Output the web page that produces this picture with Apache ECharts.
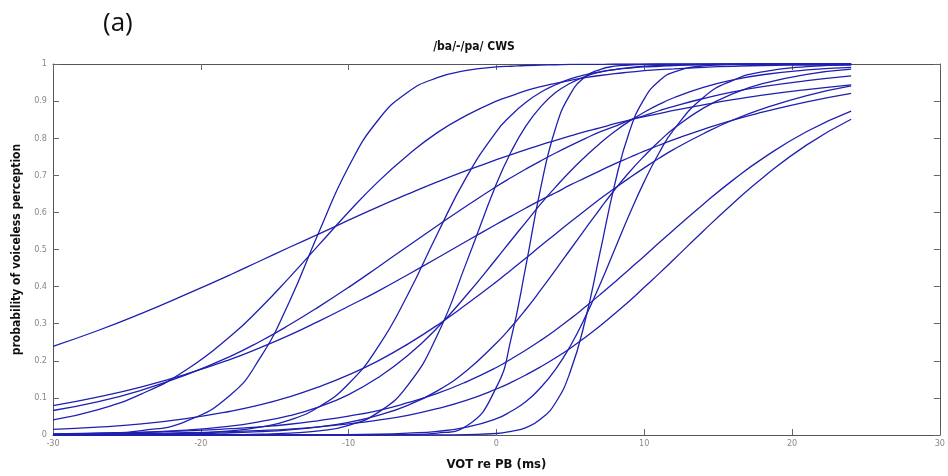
<!DOCTYPE html>
<html><head><meta charset="utf-8">
<script src="https://cdn.jsdelivr.net/npm/echarts@6/dist/echarts.min.js"></script>
<style>html,body{margin:0;padding:0;background:#fff}#c{width:948px;height:476px}</style>
</head><body><div id="c"></div>
<script>
// VOT values (ms) at which each curve is sampled
const vot = [-30,-27,-24,-21,-18,-16,-14,-12,-10,-8,-6,-4,-2,0,1,2,3,4,5,6,7,8,9,10,11,12,14,16,18,21,24];
// probability of voiceless perception, one array per listener curve
const curveA = [0.239,0.281,0.328,0.379,0.432,0.469,0.506,0.542,0.579,0.615,0.649,0.682,0.713,0.742,0.756,0.769,0.782,0.794,0.806,0.818,0.828,0.839,0.849,0.858,0.866,0.875,0.890,0.904,0.916,0.931,0.944];
const curveS1 = [0.001,0.004,0.012,0.037,0.108,0.207,0.360,0.548,0.723,0.849,0.924,0.963,0.983,0.992,0.994,0.996,0.997,0.998,0.999,0.999,0.999,1,1,1,1,1,1,1,1,1,1];
const curveD = [0.041,0.068,0.111,0.175,0.266,0.341,0.425,0.513,0.601,0.683,0.754,0.815,0.862,0.900,0.914,0.928,0.939,0.948,0.956,0.963,0.969,0.974,0.978,0.982,0.985,0.987,0.991,0.994,0.996,0.997,0.998];
const curveB = [0.079,0.102,0.130,0.164,0.204,0.235,0.269,0.307,0.347,0.388,0.432,0.477,0.523,0.568,0.590,0.612,0.633,0.653,0.674,0.693,0.712,0.731,0.748,0.765,0.781,0.796,0.824,0.849,0.870,0.898,0.921];
const curveC = [0.066,0.089,0.121,0.162,0.212,0.252,0.297,0.346,0.398,0.453,0.509,0.564,0.618,0.670,0.694,0.717,0.739,0.760,0.780,0.799,0.817,0.832,0.848,0.861,0.874,0.886,0.907,0.925,0.939,0.955,0.968];
const curveE = [0.015,0.021,0.030,0.044,0.064,0.081,0.103,0.130,0.162,0.200,0.245,0.296,0.353,0.413,0.445,0.477,0.510,0.542,0.574,0.605,0.636,0.665,0.693,0.720,0.746,0.770,0.812,0.849,0.879,0.915,0.941];
const curveM1 = [0,0.001,0.002,0.004,0.011,0.021,0.040,0.076,0.138,0.238,0.378,0.542,0.697,0.818,0.862,0.897,0.924,0.944,0.960,0.971,0.979,0.985,0.989,0.992,0.994,0.996,0.998,0.999,1,1,1];
const curveM2 = [0,0,0,0,0.001,0.002,0.005,0.011,0.026,0.061,0.134,0.269,0.468,0.677,0.764,0.833,0.885,0.923,0.948,0.966,0.978,0.985,0.990,0.994,0.996,0.997,0.999,1,1,1,1];
const curveS3 = [0,0,0,0,0,0,0,0,0,0,0.001,0.005,0.025,0.129,0.261,0.457,0.667,0.827,0.919,0.965,0.985,0.994,0.997,0.999,1,1,1,1,1,1,1];
const curveS4 = [0,0,0,0,0,0,0,0,0,0,0,0,0.001,0.004,0.010,0.020,0.043,0.087,0.171,0.308,0.490,0.675,0.818,0.906,0.954,0.978,0.995,0.999,1,1,1];
const curveM3 = [0,0,0,0,0,0,0,0.001,0.001,0.002,0.005,0.010,0.021,0.044,0.064,0.090,0.128,0.177,0.240,0.317,0.405,0.5,0.595,0.683,0.760,0.823,0.910,0.956,0.979,0.993,0.998];
const curveG = [0.001,0.002,0.004,0.006,0.009,0.012,0.016,0.022,0.030,0.040,0.053,0.071,0.094,0.124,0.142,0.162,0.184,0.208,0.234,0.263,0.294,0.327,0.361,0.398,0.435,0.473,0.550,0.624,0.693,0.782,0.851];
const curveH = [0.003,0.005,0.007,0.011,0.017,0.022,0.029,0.039,0.051,0.066,0.087,0.112,0.144,0.182,0.205,0.229,0.255,0.283,0.313,0.345,0.378,0.412,0.447,0.482,0.518,0.553,0.622,0.687,0.745,0.818,0.873];
const curveM4 = [0,0.001,0.002,0.003,0.006,0.009,0.014,0.022,0.034,0.053,0.080,0.119,0.174,0.248,0.291,0.339,0.391,0.445,0.5,0.555,0.609,0.661,0.709,0.752,0.791,0.826,0.881,0.920,0.947,0.972,0.986];
const curveM5 = [0.002,0.004,0.007,0.013,0.024,0.036,0.052,0.076,0.109,0.155,0.214,0.289,0.378,0.475,0.525,0.574,0.623,0.668,0.711,0.750,0.786,0.818,0.846,0.870,0.891,0.909,0.937,0.957,0.971,0.984,0.991];

const curves = [curveA,curveS1,curveD,curveB,curveC,curveE,curveM1,curveM2,curveS3,curveS4,curveM3,curveG,curveH,curveM4,curveM5];

const chart = echarts.init(document.getElementById('c'), null, {renderer:'canvas'});
const axisLine = {show:true, onZero:false, lineStyle:{color:'#555', width:1}};
const tick = {show:true, inside:true, length:6, lineStyle:{color:'#666'}};
const lab = {color:'#888', fontSize:9, fontFamily:'DejaVu Sans Condensed'};
chart.setOption({
  animation:false,
  graphic:[{type:'text', left:103, top:11, style:{text:'(a)', font:'26px "Open Sans"', fill:'#111'}}],
  title:{text:'/ba/-/pa/ CWS', left:'center', top:36, textStyle:{fontFamily:'DejaVu Sans Condensed', fontWeight:'bold', fontSize:12, color:'#111'}},
  grid:{left:53, right:3, top:64, bottom:34},
  xAxis:[
    {type:'value', min:-30, max:30, interval:10, position:'bottom',
     axisLine:axisLine, axisTick:tick,
     axisLabel:Object.assign({margin:4}, lab), splitLine:{show:false},
     name:'VOT re PB (ms)', nameLocation:'middle', nameGap:23,
     nameTextStyle:{fontFamily:'DejaVu Sans Condensed', fontWeight:'bold', fontSize:13, color:'#111'}},
    {type:'value', min:-30, max:30, interval:10, position:'top',
     axisLine:axisLine, axisTick:tick,
     axisLabel:{show:false}, splitLine:{show:false}}
  ],
  yAxis:[
    {type:'value', min:0, max:1, interval:0.1, position:'left',
     axisLine:axisLine, axisTick:tick,
     axisLabel:Object.assign({margin:6}, lab), splitLine:{show:false},
     name:'probability of voiceless perception', nameLocation:'middle', nameGap:28, nameRotate:90,
     nameTextStyle:{fontFamily:'DejaVu Sans Condensed', fontWeight:'bold', fontSize:12, color:'#111'}},
    {type:'value', min:0, max:1, interval:0.1, position:'right',
     axisLine:axisLine, axisTick:tick,
     axisLabel:{show:false}, splitLine:{show:false}}
  ],
  series: curves.map(c => ({
    type:'line', xAxisIndex:0, yAxisIndex:0, smooth:0.5, symbol:'none', clip:true,
    lineStyle:{color:'#1f1fb0', width:1.3},
    data: vot.map((x,i) => [x, c[i]])
  }))
});
</script></body></html>
